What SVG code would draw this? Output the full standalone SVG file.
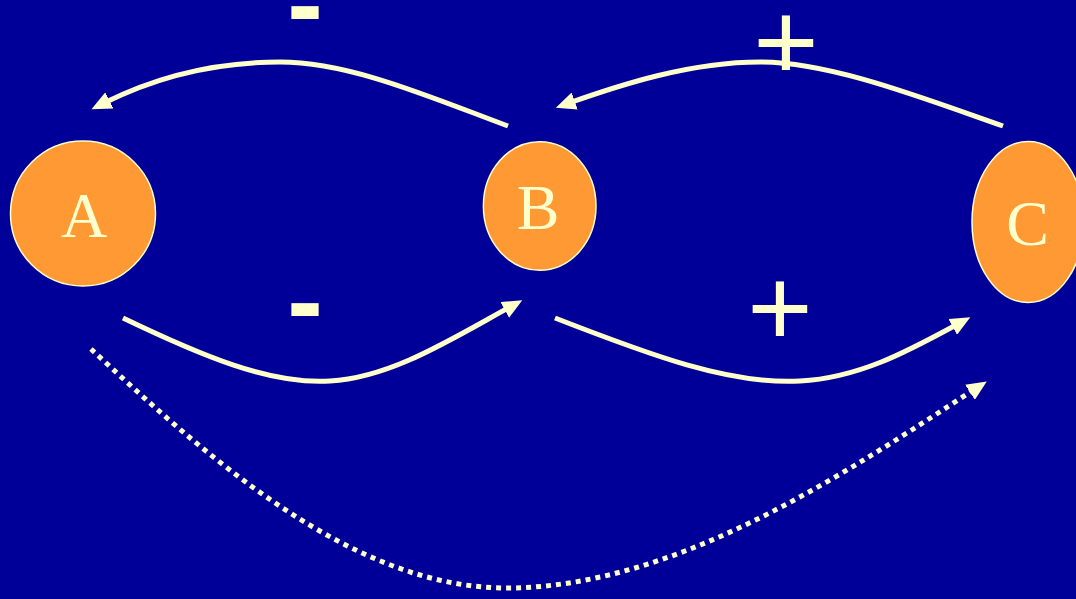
<svg xmlns="http://www.w3.org/2000/svg" width="1076" height="599" viewBox="0 0 1076 599">
<style>
.node{fill:#FF9933;stroke:#FFFFCC;stroke-width:1.5}
.lbl{font-family:"Liberation Serif","Times New Roman",serif;font-size:64px;fill:#FFFFCC;text-anchor:middle}
.sign{font-family:"Liberation Sans",Arial,sans-serif;fill:#FFFFCC;text-anchor:middle}
.arr{fill:none;stroke:#FFFFCC;stroke-width:5;marker-end:url(#ah)}
.dot{stroke-dasharray:5 5}
</style>
<defs>
<marker id="ah" markerUnits="userSpaceOnUse" markerWidth="22" markerHeight="18" viewBox="0 0 22 18" refX="6" refY="9" orient="auto">
<path d="M0,0 L20,9 L0,18 Z" fill="#FFFFCC"/>
</marker>
</defs>
<rect x="0" y="0" width="1076" height="599" fill="#000099"/>
<g id="connectors">
<path class="arr" d="M508,126 C430,97 350,62 280,62 C200,62 140,85 104,103"/>
<path class="arr" d="M1003,126 C920,97 830,62 760,62 C690,62 620,85 569,103"/>
<path class="arr" d="M123,318 C200,355 270,385 330,381 C390,378 450,340 510,307"/>
<path class="arr" d="M555,318 C650,355 730,385 800,381 C860,378 910,350 958,324"/>
<path class="arr dot" d="M91,349 C200,450 350,590 510,588 C680,586 850,470 975,389"/>
</g>
<g id="signs">
<text class="sign" x="305" y="41" font-size="107" font-weight="bold">-</text>
<text class="sign" x="305" y="338" font-size="107" font-weight="bold">-</text>
<text class="sign" x="786" y="80" font-size="112">+</text>
<text class="sign" x="780" y="346" font-size="112">+</text>
</g>
<g id="A">
<circle class="node" cx="83" cy="213.5" r="72.5"/>
<text class="lbl" x="84" y="237">A</text>
</g>
<g id="B">
<ellipse class="node" cx="539.7" cy="206" rx="56.3" ry="64.2"/>
<text class="lbl" x="538" y="229">B</text>
</g>
<g id="C">
<ellipse class="node" cx="1028" cy="222" rx="56" ry="80.5"/>
<text class="lbl" x="1027.5" y="245">C</text>
</g>
</svg>
